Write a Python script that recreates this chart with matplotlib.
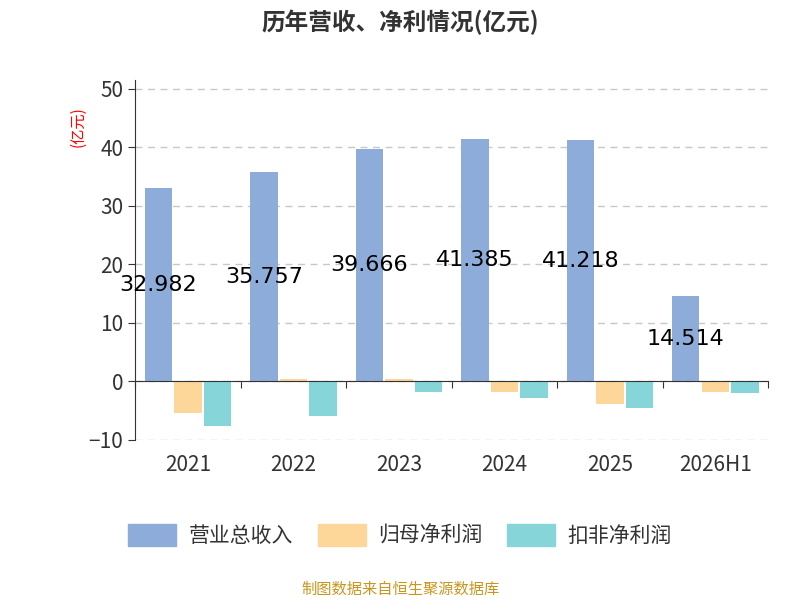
import numpy as np
import matplotlib.pyplot as plt
import matplotlib.transforms as mtransforms

plt.rcParams['font.family'] = ['Noto Sans CJK SC', 'DejaVu Sans']

years = ["2021", "2022", "2023", "2024", "2025", "2026H1"]
revenue = [32.982, 35.757, 39.666, 41.385, 41.218, 14.514]
net_profit = [-5.5, 0.4, 0.4, -1.8, -3.8, -1.8]
net_profit_kf = [-7.6, -6.0, -1.8, -2.8, -4.5, -2.0]
series_names = ["营业总收入", "归母净利润", "扣非净利润"]
colors = ["#8eacda", "#fdd79a", "#86d5d8"]

fig = plt.figure(figsize=(8, 6), dpi=100)
ax = fig.add_axes([0.169, 0.267, 0.791, 0.6])

x = np.arange(len(years))
w = 0.26
off = 0.28
ax.bar(x - off, revenue, w, color=colors[0], zorder=2)
ax.bar(x, net_profit, w, color=colors[1], zorder=2)
ax.bar(x + off, net_profit_kf, w, color=colors[2], zorder=2)

for xi, v in zip(x, revenue):
    ax.text(xi - off, v / 2, f"{v:.3f}", ha='center', va='center', fontsize=16, color='black',
            family=['DejaVu Sans'], zorder=3)

ax.set_xlim(-0.5, len(years) - 0.5)
ax.set_ylim(-10, 51.5)
ax.set_yticks(range(-10, 51, 10))
ax.tick_params(axis='y', labelsize=15, colors='#333333', length=5)
ax.grid(axis='y', linestyle=(0, (5, 4)), color='#c8c8c8', linewidth=1, zorder=0)

for s in ['top', 'right']:
    ax.spines[s].set_visible(False)
ax.spines['left'].set_color('#333333')
ax.spines['bottom'].set_position(('data', 0))
ax.spines['bottom'].set_color('#333333')
ax.set_xticks(np.arange(-0.5, len(years), 1))
ax.set_xticklabels([])
ax.tick_params(axis='x', length=5, color='#333333')

trans = mtransforms.blended_transform_factory(ax.transData, ax.transAxes)
for xi, lab in zip(x, years):
    ax.text(xi, -0.07, lab, transform=trans, ha='center', va='center', fontsize=15, color='#333333')

ax.text(-0.09, 0.87, "(亿元)", transform=ax.transAxes, rotation=90, color='red',
        fontsize=11, ha='center', va='center')

fig.text(0.5, 0.962, "历年营收、净利情况(亿元)", ha='center', va='center', fontsize=17,
         fontweight='bold', color='#333333')

handles = [plt.Rectangle((0, 0), 1, 1, color=c) for c in colors]
fig.legend(handles, series_names, loc='center', bbox_to_anchor=(0.5, 0.108), ncol=3,
           frameon=False, fontsize=15, handlelength=2.3, handleheight=1.3,
           handletextpad=0.6, columnspacing=1.2, labelcolor='#333333')

fig.text(0.5, 0.018, "制图数据来自恒生聚源数据库", ha='center', va='center', fontsize=11, color='#c8961e')

fig.savefig("out.png", dpi=100)
